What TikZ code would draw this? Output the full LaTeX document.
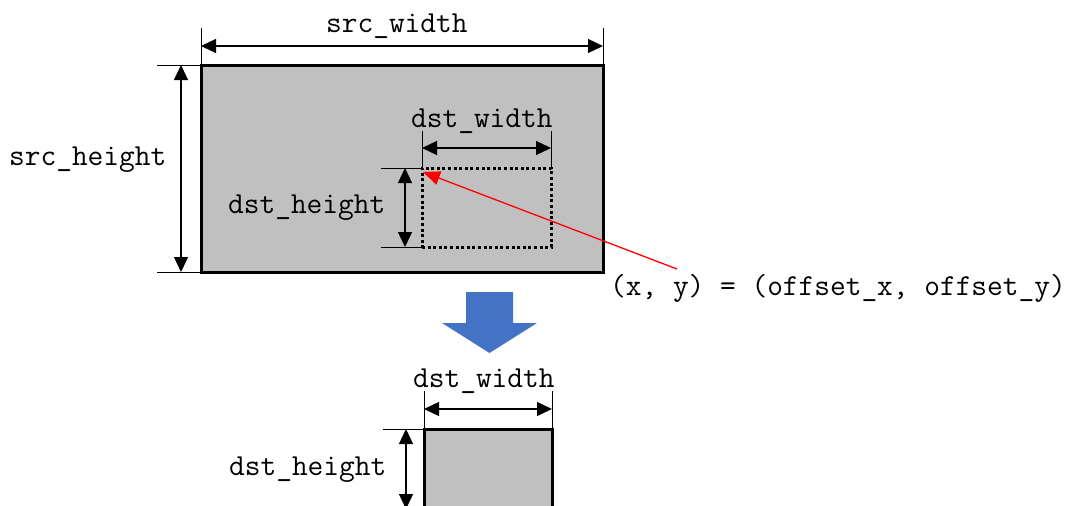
\documentclass[tikz,border=0pt]{standalone}
\usetikzlibrary{arrows.meta}
\definecolor{boxgray}{HTML}{C0C0C0}
\definecolor{bluearrow}{HTML}{4472C4}
\begin{document}
\begin{tikzpicture}[x=1pt,y=-1pt,
  lbl/.style={anchor=base west,inner sep=0pt,font=\fontsize{30.5}{34}\ttfamily},
  dimline/.style={line width=1.3pt,{Triangle[length=15pt,width=14pt]}-{Triangle[length=15pt,width=14pt]}},
  extline/.style={line width=1pt},
  graybox/.style={draw,line width=3pt,fill=boxgray,inner sep=0pt,outer sep=0pt,anchor=north west},
  dotbox/.style={draw,line width=3pt,dash pattern=on 3pt off 2.6pt,inner sep=0pt,outer sep=0pt,anchor=north west}]
\useasboundingbox (0,0) rectangle (1066,506);
\clip (0,0) rectangle (1066,506);
% source rectangle
\node[graybox,minimum width=402pt,minimum height=207pt] (src) at (201,65) {};
% destination region in source
\node[dotbox,minimum width=129pt,minimum height=79pt] (roi) at (422,168) {};
% src_width dimension
\coordinate (swa) at (201,28);
\coordinate (swb) at (603,28);
\draw[extline] (swa) -- (src.north west);
\draw[extline] (swb) -- (src.north east);
\coordinate (swl) at (201,46);
\coordinate (swr) at (603,46);
\draw[dimline] (swl) -- (swr);
\node[lbl] (swlabel) at (326,32) {src\_width};
% src_height dimension
\coordinate (sha) at (157,65);
\coordinate (shb) at (157,272);
\draw[extline] (sha) -- (src.north west);
\draw[extline] (shb) -- (src.south west);
\coordinate (sht) at (181,65);
\coordinate (shd) at (181,272);
\draw[dimline] (sht) -- (shd);
\node[lbl] (shlabel) at (9,165) {src\_height};
% dst_width dimension (in source)
\coordinate (dwa) at (422,131);
\coordinate (dwb) at (551,131);
\draw[extline] (dwa) -- (roi.north west);
\draw[extline] (dwb) -- (roi.north east);
\coordinate (dwl) at (422,148);
\coordinate (dwr) at (551,148);
\draw[dimline] (dwl) -- (dwr);
\node[lbl] (dwlabel) at (411,127) {dst\_width};
% dst_height dimension (in source)
\coordinate (dha) at (381,168);
\coordinate (dhb) at (381,247);
\draw[extline] (dha) -- (roi.north west);
\draw[extline] (dhb) -- (roi.south west);
\coordinate (dht) at (405,168);
\coordinate (dhd) at (405,247);
\draw[dimline] (dht) -- (dhd);
\node[lbl] (dhlabel) at (228,213) {dst\_height};
% offset annotation
\node[lbl] (offlabel) at (610,295) {(x, y) = (offset\_x, offset\_y)};
\coordinate (offstart) at (677,269);
\coordinate (offend) at (423,172);
\draw[red,line width=1.3pt,-{Triangle[length=17pt,width=14pt]}] (offstart) -- (offend);
% blue down arrow
\fill[bluearrow] (466,292) -- (513,292) -- (513,323) -- (537,323) -- (489.5,353) -- (442,323) -- (466,323) -- cycle;
% destination rectangle
\node[graybox,minimum width=128pt,minimum height=80pt] (dst) at (424,429) {};
% dst_width dimension (output)
\coordinate (owa) at (424,391);
\coordinate (owb) at (552,391);
\draw[extline] (owa) -- (dst.north west);
\draw[extline] (owb) -- (dst.north east);
\coordinate (owl) at (424,409);
\coordinate (owr) at (552,409);
\draw[dimline] (owl) -- (owr);
\node[lbl] (owlabel) at (413,387) {dst\_width};
% dst_height dimension (output)
\coordinate (oha) at (383,429);
\draw[extline] (oha) -- (dst.north west);
\coordinate (oht) at (406,429);
\coordinate (ohd) at (406,509);
\draw[dimline] (oht) -- (ohd);
\node[lbl] (ohlabel) at (229,475) {dst\_height};
\end{tikzpicture}
\end{document}
